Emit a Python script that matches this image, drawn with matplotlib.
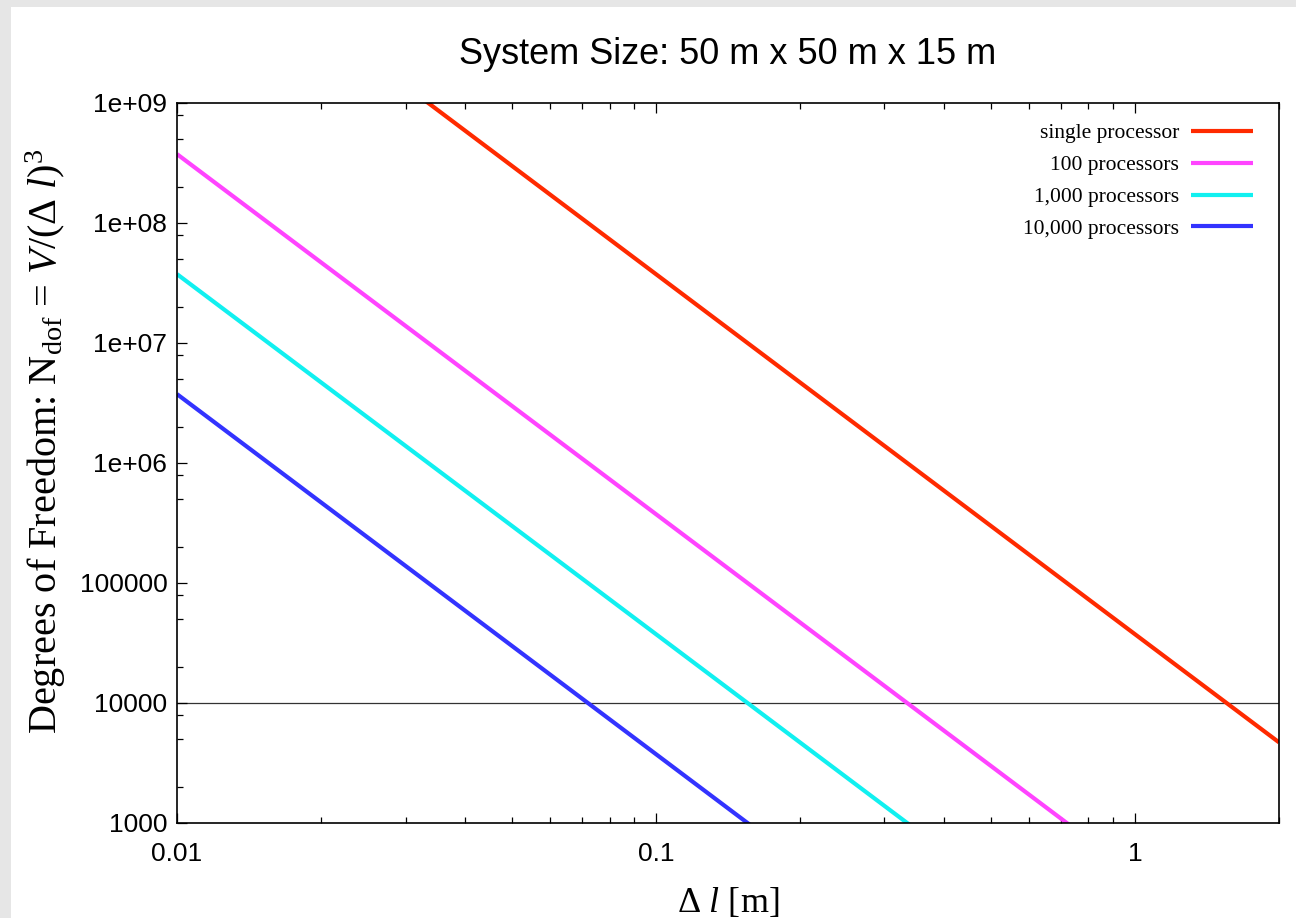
import matplotlib
matplotlib.use("Agg")
import matplotlib.pyplot as plt
from matplotlib.patches import Rectangle
from matplotlib.ticker import FixedLocator, LogLocator, NullFormatter

plt.rcParams["mathtext.fontset"] = "custom"
plt.rcParams["mathtext.rm"] = "Liberation Serif"
plt.rcParams["mathtext.it"] = "Liberation Serif:italic"
plt.rcParams["mathtext.bf"] = "Liberation Serif:bold"

# -------------------------
# Data
# -------------------------
dl = [0.01, 0.1, 1.0, 2.0]
single_proc = [3.75e10, 3.75e7, 3.75e4, 4.7e3]
proc_100 = [3.75e8, 3.75e5, 375, 47]
proc_1000 = [3.75e7, 3.75e4, 37.5, 4.7]
proc_10000 = [3.75e6, 3.75e3, 3.75, 0.47]

labels = ["single processor", "100 processors", "1,000 processors", "10,000 processors"]
colors = ["#ff2a00", "#ff44ff", "#11f0f0", "#3333ff"]
series = [single_proc, proc_100, proc_1000, proc_10000]

limit = 10000

y_ticks = [1e3, 1e4, 1e5, 1e6, 1e7, 1e8, 1e9]
y_ticklabels = ["1000", "10000", "100000", "1e+06", "1e+07", "1e+08", "1e+09"]
x_ticks = [0.01, 0.1, 1]
x_ticklabels = ["0.01", "0.1", "1"]

# -------------------------
# Figure
# -------------------------
fig = plt.figure(figsize=(12.96, 9.18), dpi=100, facecolor="#e6e6e6")
fig.patches.append(Rectangle((11 / 1296, 0), 1, 1 - 7 / 918,
                             transform=fig.transFigure, facecolor="white",
                             edgecolor="none", zorder=-10))

ax = fig.add_axes([177 / 1296, 1 - 823 / 918, 1102 / 1296, 720 / 918])
ax.set_zorder(1)

ax.axhline(limit, color="#333333", linewidth=0.9, zorder=1)

for y, c, lab in zip(series, colors, labels):
    ax.plot(dl, y, color=c, linewidth=3.0, label=lab, zorder=2,
            solid_capstyle="butt")

ax.set_xscale("log")
ax.set_yscale("log")
ax.set_xlim(0.01, 2)
ax.set_ylim(1e3, 1e9)

ax.set_xticks(x_ticks)
ax.set_xticklabels(x_ticklabels)
ax.xaxis.set_minor_locator(LogLocator(base=10, subs=range(2, 10)))
ax.xaxis.set_minor_formatter(NullFormatter())

ax.set_yticks(y_ticks)
ax.set_yticklabels(y_ticklabels)
minor_y = [m * 10 ** e for e in range(3, 9) for m in (2, 5, 8)]
ax.yaxis.set_minor_locator(FixedLocator(minor_y))
ax.yaxis.set_minor_formatter(NullFormatter())

ax.tick_params(which="both", direction="in", top=True, right=False,
               width=0.9, colors="black")
ax.tick_params(which="major", length=7)
ax.tick_params(which="minor", length=4)
ax.tick_params(axis="x", which="major", pad=14, labelsize=19)
ax.tick_params(axis="y", which="major", pad=7, labelsize=19)
for lab in ax.get_xticklabels() + ax.get_yticklabels():
    lab.set_fontfamily("Liberation Sans")

for s in ax.spines.values():
    s.set_linewidth(1.2)

ax.set_title("System Size: 50 m x 50 m x 15 m", fontsize=26,
             fontfamily="Liberation Sans", pad=28)

ax.set_xlabel(r"$\Delta\ l$ [m]", fontsize=26,
              fontfamily="Liberation Serif", labelpad=14)
ax.set_ylabel(r"Degrees of Freedom: N$_{\rm dof}$ = $V/(\Delta\ l)^3$",
              fontsize=29, fontfamily="Liberation Serif")
ax.yaxis.set_label_coords(-0.099, 0.53)

leg = ax.legend(loc="upper right", bbox_to_anchor=(0.976, 0.972),
                frameon=False, markerfirst=False, borderaxespad=0,
                borderpad=0, handlelength=2.84, handletextpad=0.56,
                labelspacing=0.55,
                prop={"family": "Liberation Serif", "size": 15.5})
for t in leg.get_texts():
    t.set_ha("right")

fig.savefig("out.png", dpi=100, facecolor=fig.get_facecolor())
